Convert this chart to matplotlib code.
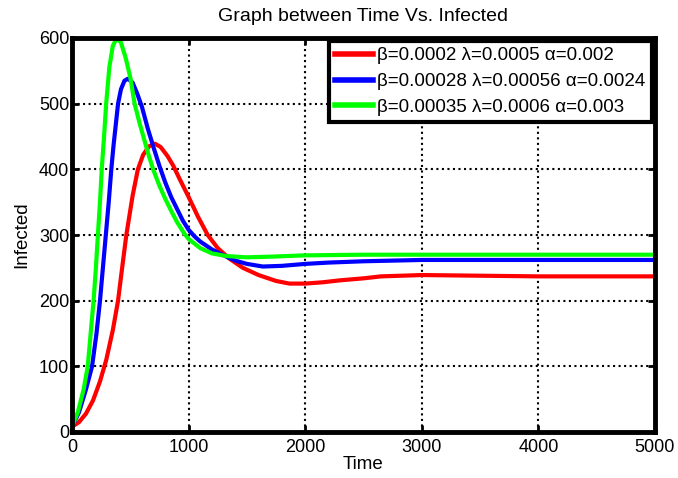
import matplotlib.pyplot as plt

plt.rcParams['font.family'] = ['Liberation Sans', 'DejaVu Sans']

# values
red_t = [0, 60, 120, 180, 240, 294, 350, 395, 430, 466, 520, 565, 610, 660, 712, 760,
         820, 870, 921, 1000, 1080, 1164, 1250, 1350, 1465, 1600, 1750, 1865, 2000,
         2150, 2300, 2500, 2650, 3000, 3500, 4000, 5000]
red_i = [8, 15, 28, 48, 77, 110, 155, 200, 250, 300, 360, 400, 422, 435, 439, 434,
         420, 405, 386, 358, 328, 300, 280, 264, 250, 239, 230, 226, 226,
         228, 231, 234, 237, 239, 238, 237, 237]

blue_t = [0, 60, 120, 172, 210, 240, 265, 290, 315, 337, 356, 395, 420, 450, 480, 520,
          560, 600, 650, 700, 750, 800, 850, 900, 950, 1000, 1050, 1100, 1200, 1300,
          1400, 1500, 1636, 1800, 2000, 2200, 2500, 3000, 5000]
blue_i = [8, 30, 65, 100, 150, 200, 250, 300, 350, 400, 436, 500, 522, 535, 538, 532,
          515, 495, 462, 433, 405, 380, 358, 340, 322, 308, 298, 290, 278, 269,
          261, 256, 252, 253, 256, 258, 260, 262, 262]

green_t = [0, 50, 100, 135, 160, 185, 205, 222, 240, 255, 275, 293, 320, 350, 384, 420,
           460, 500, 537, 580, 620, 660, 700, 750, 800, 850, 900, 964, 1000, 1100, 1200,
           1322, 1493, 1700, 2000, 2500, 5000]
green_i = [8, 30, 65, 100, 150, 200, 250, 300, 350, 400, 450, 500, 555, 588, 600, 593,
           570, 540, 500, 470, 445, 420, 398, 375, 355, 337, 320, 302, 294, 280, 272,
           268, 266, 267, 269, 270, 270]

labels = ["β=0.0002 λ=0.0005 α=0.002",
          "β=0.00028 λ=0.00056 α=0.0024",
          "β=0.00035 λ=0.0006 α=0.003"]

fig = plt.figure(figsize=(6.78, 4.78), dpi=100)
ax = fig.add_axes([72/678, 1 - 432/478, (655-72)/678, (432-38)/478])

ax.plot(red_t, red_i, color='#ff0000', linewidth=3, label=labels[0])
ax.plot(blue_t, blue_i, color='#0000ff', linewidth=3, label=labels[1])
ax.plot(green_t, green_i, color='#00ff00', linewidth=3, label=labels[2])

ax.set_xlim(0, 5000)
ax.set_ylim(0, 600)
ax.set_xticks(range(0, 5001, 1000))
ax.set_yticks(range(0, 601, 100))
ax.grid(True, color='black', linestyle=':', linewidth=1.5)
ax.tick_params(direction='in', top=True, right=True, length=5, width=2,
               labelsize=13, pad=2)
ax.tick_params(axis='x', pad=5)
for s in ax.spines.values():
    s.set_linewidth(3.5)

ax.set_title("Graph between Time Vs. Infected", fontsize=14, pad=12)
ax.set_xlabel("Time", fontsize=13.5, labelpad=0)
ax.set_ylabel("Infected", fontsize=13.5, labelpad=6)

leg = ax.legend(loc='upper right', fontsize=13.5, handlelength=2, handletextpad=0.25,
                borderaxespad=0.15, fancybox=False, framealpha=1, borderpad=0.35,
                labelspacing=0.45)
leg.get_frame().set_edgecolor('black')
leg.get_frame().set_linewidth(3)
for l in leg.get_lines():
    l.set_linewidth(4)

fig.savefig("out.png", dpi=100)
